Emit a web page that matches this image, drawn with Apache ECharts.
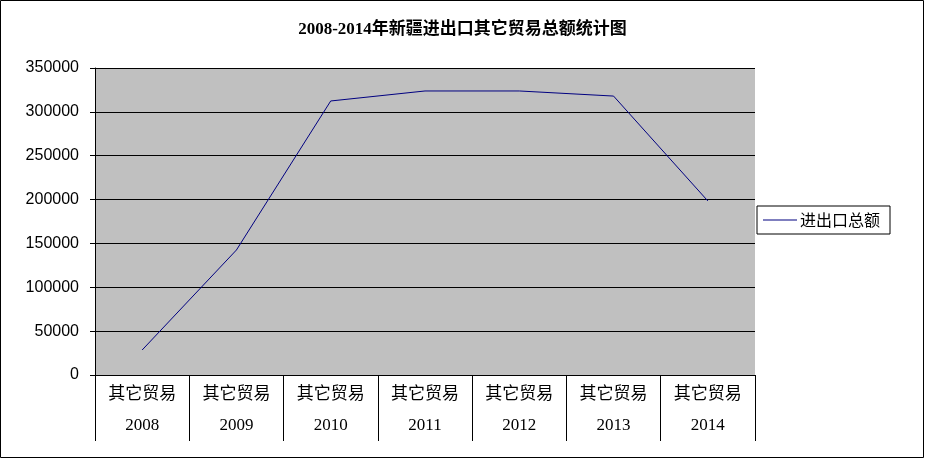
<!DOCTYPE html>
<html><head><meta charset="utf-8">
<script src="https://cdn.jsdelivr.net/npm/echarts@6/dist/echarts.min.js"></script>
<style>html,body{margin:0;padding:0;background:#fff}#c{width:925px;height:459px}</style>
</head><body><div id="c"></div>
<script>
const years = ['2008','2009','2010','2011','2012','2013','2014'];
const categoryLabel = '其它贸易';
const values = [28500, 142500, 312400, 323800, 323800, 318000, 198400];
const seriesName = '进出口总额';
const titleText = '2008-2014年新疆进出口其它贸易总额统计图';

const chart = echarts.init(document.getElementById('c'));
chart.setOption({
  animation: false,
  backgroundColor: '#fff',
  title: { text: titleText, left: 'center', top: 16, textStyle: { fontFamily: 'Liberation Serif, Noto Sans CJK SC', fontSize: 17, fontWeight: 'bold', color: '#000' } },
  legend: { left: 757, top: 206, orient: 'vertical', data: [{ name: seriesName, icon: 'rect' }], itemWidth: 34, itemHeight: 1, itemGap: 0,
    borderColor: '#000', borderWidth: 1, padding: [6, 10, 6, 6], borderRadius: 0,
    textStyle: { fontFamily: 'Noto Sans CJK SC', fontSize: 16, color: '#000', padding: [0, 0, 0, -2] } },
  grid: { left: 95, right: 170, top: 68, bottom: 84, show: true, backgroundColor: '#c0c0c0', borderWidth: 0 },
  xAxis: { type: 'category', data: years, boundaryGap: true,
    axisLine: { lineStyle: { color: '#000' } },
    axisTick: { show: true, length: 66, alignWithLabel: false, lineStyle: { color: '#000' } },
    axisLabel: { interval: 0, margin: 1, lineHeight: 33, color: '#000', fontSize: 17,
      formatter: v => '{a|' + categoryLabel + '}\n{b|' + v + '}',
      rich: { a: { fontFamily: 'Noto Sans CJK SC', fontSize: 17, lineHeight: 33, color: '#000' },
              b: { fontFamily: 'Liberation Serif', fontSize: 17, lineHeight: 33, color: '#000' } } } },
  yAxis: { type: 'value', min: 0, max: 350000, interval: 50000,
    axisLine: { show: true, lineStyle: { color: '#000' } },
    axisTick: { show: true, length: 5, lineStyle: { color: '#000' } },
    splitLine: { lineStyle: { color: '#000', width: 1 } },
    axisLabel: { color: '#000', fontFamily: 'Liberation Sans', fontSize: 16, margin: 16, formatter: v => String(v) } },
  series: [{ name: seriesName, type: 'line', data: values, symbol: 'none', lineStyle: { color: '#000080', width: 1 }, itemStyle: { color: '#000080' } }],
  graphic: [{ type: 'rect', shape: { x: 0.5, y: 0.5, width: 923, height: 457 }, style: { fill: null, stroke: '#000', lineWidth: 1 } }]
});
</script></body></html>
